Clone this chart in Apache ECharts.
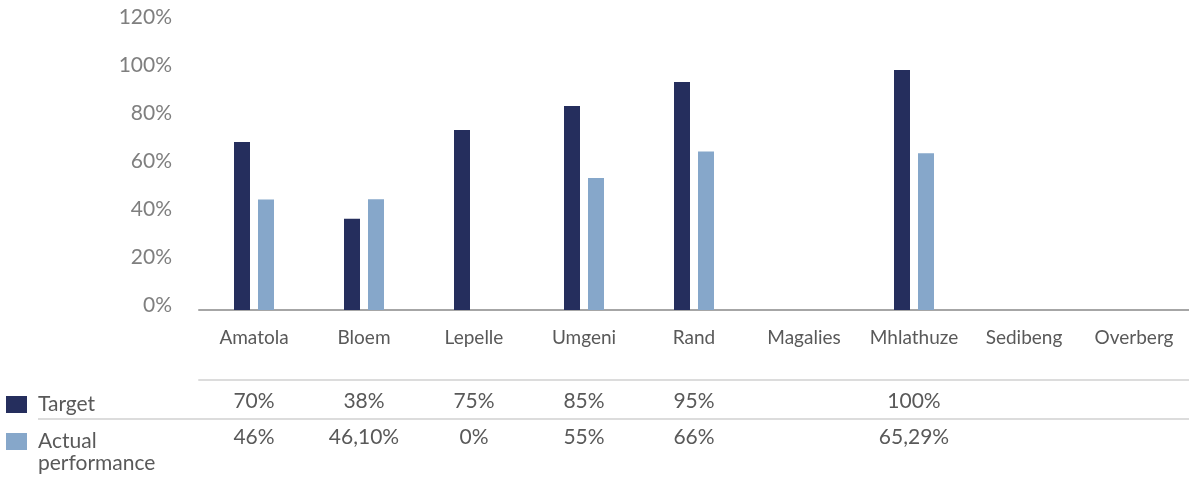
<!DOCTYPE html>
<html>
<head>
<meta charset="utf-8">
<script src="https://cdn.jsdelivr.net/npm/echarts@6/dist/echarts.min.js"></script>
<style>
  html, body { margin: 0; padding: 0; background: #fff; }
  #main { width: 1189px; height: 477px; }
</style>
</head>
<body>
<div id="main"></div>
<script>
// water boards: target vs actual performance
var categories = ["Amatola", "Bloem", "Lepelle", "Umgeni", "Rand", "Magalies", "Mhlathuze", "Sedibeng", "Overberg"];
var targetValues = [70, 38, 75, 85, 95, null, 100, null, null];
var actualValues = [46, 46.1, 0, 55, 66, null, 65.29, null, null];
// table rows under the chart
var targetLabels = ["70%", "38%", "75%", "85%", "95%", "", "100%", "", ""];
var actualLabels = ["46%", "46,10%", "0%", "55%", "66%", "", "65,29%", "", ""];
var yTicks = [0, 20, 40, 60, 80, 100, 120];

(function () {
  var myChart = echarts.init(document.getElementById("main"));
  var font = "Lato";
  var textGrey = "#595959";

  var option = {
    backgroundColor: "#fff",
    animation: false,
    grid: {
      left: 199,
      right: 0,
      top: 22,
      bottom: 167
    },
    legend: [
      {
        orient: "vertical",
        left: 1,
        top: 389,
        icon: "rect",
        itemWidth: 21,
        itemHeight: 17,
        data: ["Target"],
        textStyle: { color: textGrey, fontSize: 21, fontFamily: font, padding: [0, 0, 8, 6] }
      },
      {
        orient: "vertical",
        left: 1,
        top: 426,
        icon: "rect",
        itemWidth: 21,
        itemHeight: 17,
        data: ["Actual performance"],
        // second word goes on its own line below (graphic text)
        formatter: function (name) {
          return name.split(" ")[0];
        },
        textStyle: { color: textGrey, fontSize: 21, fontFamily: font, padding: [0, 0, 8, 6] }
      }
    ],
    xAxis: [
      {
        type: "category",
        data: categories,
        axisTick: { show: false },
        axisLine: { lineStyle: { color: "#a6a6a6", width: 2 } },
        axisLabel: { color: textGrey, fontSize: 19, fontFamily: font, margin: 18, interval: 0 }
      },
      {
        type: "category",
        data: targetLabels,
        position: "bottom",
        offset: 70,
        axisTick: { show: false },
        axisLine: { lineStyle: { color: "#dcdcdc", width: 2 } },
        axisLabel: { color: textGrey, fontSize: 21, fontFamily: font, margin: 11, interval: 0 }
      },
      {
        type: "category",
        data: actualLabels,
        position: "bottom",
        offset: 109,
        axisTick: { show: false },
        axisLine: { show: false },
        axisLabel: { color: textGrey, fontSize: 21, fontFamily: font, margin: 8, interval: 0 }
      }
    ],
    yAxis: {
      type: "value",
      min: yTicks[0],
      max: yTicks[yTicks.length - 1],
      interval: 20,
      axisLine: { show: false },
      axisTick: { show: false },
      splitLine: { show: false },
      axisLabel: {
        color: "#7f7f7f",
        fontSize: 21,
        fontFamily: font,
        margin: 27,
        verticalAlign: "bottom",
        lineHeight: 10,
        formatter: "{value}%"
      }
    },
    graphic: [
      {
        type: "line",
        shape: { x1: 38, y1: 419, x2: 1189, y2: 419 },
        style: { stroke: "#dcdcdc", lineWidth: 2 }
      },
      {
        type: "text",
        left: 38,
        top: 453,
        style: { text: "performance", fill: textGrey, font: "21px Lato" }
      }
    ],
    series: [
      {
        name: "Target",
        type: "bar",
        data: targetValues,
        barWidth: 16,
        barGap: "50%",
        itemStyle: { color: "#252e5d" }
      },
      {
        name: "Actual performance",
        type: "bar",
        data: actualValues,
        barWidth: 16,
        itemStyle: { color: "#86a7ca" }
      }
    ]
  };

  myChart.setOption(option);
  window.addEventListener("resize", function () {
    myChart.resize();
  });
})();
</script>
</body>
</html>
